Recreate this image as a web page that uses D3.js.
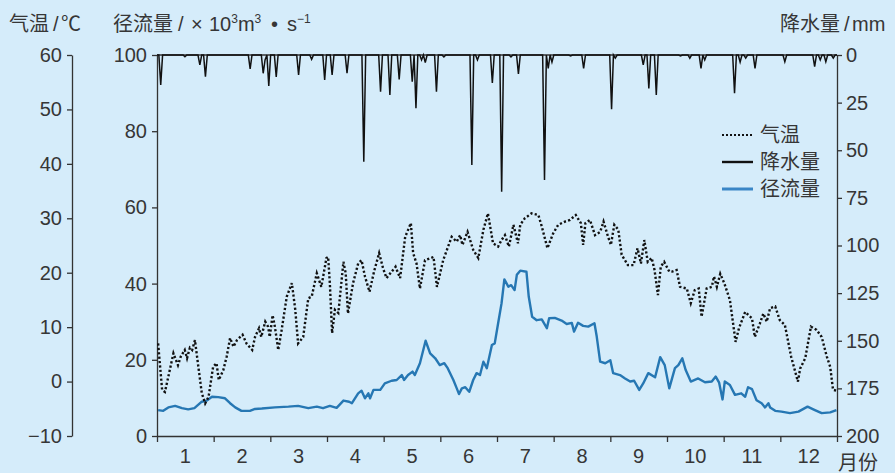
<!DOCTYPE html>
<html>
<head>
<meta charset="utf-8">
<script src="https://cdn.jsdelivr.net/npm/d3@7"></script>
<style>
  body { margin: 0; background: #d5ecfa; }
  svg { display: block; }
  text { font-family: "Liberation Sans", "Noto Sans CJK SC", sans-serif; fill: #363636; }
  .axis path, .axis line { stroke: #333; stroke-width: 1.3; }
  .axis text { font-size: 20px; fill: #363636; }
</style>
</head>
<body>
<div id="chart"></div>
<script>
const months = ['1','2','3','4','5','6','7','8','9','10','11','12'];
const tempTicks = [-10, 0, 10, 20, 30, 40, 50, 60];
const flowTicks = [0, 20, 40, 60, 80, 100];
const rainTicks = [0, 25, 50, 75, 100, 125, 150, 175, 200];

// 气温, x in months from Jan 1
const tempAt = [0.02,0.09,0.14,0.20,0.29,0.37,0.42,0.49,0.53,0.58,0.62,0.67,0.73,0.79,0.85,0.91,0.99,1.05,1.09,1.17,
  1.23,1.29,1.35,1.41,1.51,1.58,1.68,1.73,1.80,1.84,1.91,1.96,1.99,2.04,2.08,2.14,2.20,2.29,2.38,2.44,
  2.49,2.58,2.67,2.73,2.82,2.90,2.99,3.02,3.05,3.09,3.14,3.20,3.29,3.33,3.37,3.46,3.55,3.61,3.67,3.75,
  3.83,3.92,3.99,4.05,4.21,4.29,4.38,4.48,4.52,4.58,4.64,4.73,4.88,4.94,5.05,5.20,5.29,5.35,5.39,5.48,
  5.58,5.67,5.76,5.84,5.93,6.02,6.08,6.14,6.21,6.29,6.37,6.41,6.49,6.61,6.73,6.79,6.89,6.99,7.08,7.20,
  7.29,7.39,7.48,7.52,7.56,7.64,7.73,7.82,7.88,7.96,8.01,8.07,8.14,8.20,8.31,8.41,8.48,8.54,8.60,8.66,
  8.73,8.78,8.84,8.89,8.95,9.04,9.09,9.17,9.23,9.35,9.42,9.49,9.56,9.61,9.70,9.79,9.83,9.88,9.94,10.01,
  10.11,10.21,10.27,10.38,10.50,10.55,10.64,10.70,10.76,10.82,10.91,10.99,11.08,11.19,11.31,11.35,11.44,11.54,11.64,11.73,
  11.82,11.88,11.93,12.0];
const tempVal = [7.0,-1.5,-1.9,0.9,5.2,3.0,4.6,5.8,4.3,6.2,5.8,7.6,2.7,-2.1,-4.0,-2.8,2.7,3.4,0.3,2.1,
  4.6,8.0,6.4,7.6,8.6,7.0,5.8,8.2,9.8,8.2,11.0,10.1,8.2,12.2,10.1,5.8,9.5,15.6,18.1,13.2,
  7.0,8.2,15.3,15.6,19.9,17.4,22.7,22.9,18.1,8.9,13.2,12.6,22.0,19.9,12.5,18.1,21.7,22.3,19.3,16.5,
  20.2,23.6,20.8,19.0,21.1,19.0,26.6,29.1,23.6,21.7,17.1,22.3,22.9,17.4,22.3,26.6,25.7,26.9,25.1,27.5,
  24.2,22.7,27.9,30.9,25.4,24.8,26.0,26.9,24.8,28.8,25.4,28.8,30.0,30.9,30.6,28.5,24.5,27.2,28.8,29.4,
  29.7,30.6,29.1,25.1,29.1,29.7,26.9,27.5,29.4,26.6,25.1,28.8,27.9,23.3,21.4,21.4,24.5,21.7,26.0,22.0,
  22.7,20.5,15.9,21.1,22.0,20.2,20.2,20.5,17.4,17.1,14.4,16.8,17.1,11.9,17.1,17.4,19.3,17.4,19.8,18.1,
  15.0,7.3,9.8,12.8,11.6,8.2,10.7,12.5,11.0,13.5,13.8,11.3,10.4,4.6,0.0,2.4,4.3,10.1,9.5,8.2,
  4.6,2.7,-1.5,-1.7];

// 径流量, x in months from Jan 1
const flowAt = [0.02,0.11,0.20,0.32,0.44,0.55,0.66,0.79,0.88,0.97,1.08,1.20,1.29,1.38,1.49,1.64,1.73,1.85,2.08,2.32,
  2.49,2.67,2.82,2.93,3.05,3.17,3.29,3.39,3.44,3.55,3.61,3.67,3.73,3.76,3.82,3.94,4.02,4.14,4.23,4.32,
  4.36,4.43,4.51,4.55,4.64,4.74,4.82,4.91,4.99,5.07,5.13,5.23,5.29,5.33,5.38,5.44,5.51,5.58,5.64,5.70,
  5.76,5.82,5.91,5.96,6.02,6.08,6.13,6.20,6.25,6.31,6.35,6.41,6.52,6.56,6.62,6.70,6.79,6.88,6.92,7.02,
  7.14,7.23,7.32,7.36,7.43,7.52,7.61,7.72,7.76,7.82,7.91,8.00,8.05,8.17,8.26,8.35,8.42,8.51,8.58,8.67,
  8.79,8.88,8.96,9.04,9.14,9.20,9.27,9.33,9.42,9.55,9.67,9.79,9.86,9.92,9.98,10.02,10.11,10.20,10.31,10.38,
  10.43,10.50,10.58,10.67,10.73,10.79,10.82,10.91,11.02,11.17,11.32,11.48,11.61,11.73,11.88,11.99];
const flowVal = [6.8,6.6,7.5,7.9,7.3,7.0,7.3,9.0,9.3,10.3,10.2,9.9,8.6,7.5,6.6,6.6,7.1,7.2,7.5,7.7,
  7.9,7.3,7.7,7.3,7.9,7.4,9.3,9.0,8.6,11.2,11.9,9.9,11.2,9.9,12.1,12.1,13.8,14.5,14.7,16.0,
  14.7,16.0,16.9,16.0,19.1,25.0,21.7,20.4,18.6,19.1,17.8,14.7,12.5,11.0,12.5,12.8,11.6,14.7,16.5,16.0,
  19.5,17.8,23.9,24.3,29.6,34.8,41.1,39.2,39.6,38.3,42.3,43.4,43.1,36.6,31.3,30.4,30.6,28.3,30.9,31.0,
  30.3,29.4,29.7,27.4,29.7,28.9,28.7,29.6,26.1,19.5,19.1,19.9,16.5,16.0,15.1,14.3,14.5,12.1,13.8,16.5,
  15.4,20.7,18.6,12.5,17.8,18.6,20.4,17.3,14.3,15.1,14.1,14.3,15.6,14.0,9.6,14.3,13.4,10.8,11.2,10.3,
  12.8,12.3,9.4,8.6,7.5,8.6,7.5,6.6,6.4,6.0,6.4,7.7,6.8,6.0,6.2,6.8];

// 降水量, rain days (day of year) and amounts
const rainDay = [2,15,23,26,50,57,58,60,64,76,83,90,94,102,111,120,125,130,137,139,
  142,144,150,154,169,172,180,185,190,194,208,210,212,222,229,244,246,261,264,268,
  281,286,292,294,310,313,316,321,337,353,356,359,363];
const rainMm = [15.7,0.9,5.2,11.4,7.3,9.6,2.6,16.3,11.5,10.5,2.3,13.1,10.5,9.6,56,19.3,21,12.8,14,28,
  2.6,4,19.3,1,57.7,2.6,14.7,71.8,1,10,65.6,7,3.7,0.5,7,28.5,1.6,5.2,17.5,21,
  0.5,1.7,7,2.6,20.1,3.7,1.6,7,3.5,6.1,2.6,3.5,1.6];

const width = 895, height = 473;
const plotLeft = 157, plotRight = 837, plotTop = 55, plotBottom = 436;

const svg = d3.select('#chart')
              .append('svg')
              .attr('width', width)
              .attr('height', height);

svg.append('rect').attr('width', width).attr('height', height).attr('fill', '#d5ecfa');

const x = d3.scaleLinear().domain([0, 12]).range([plotLeft, plotRight]);
const yT = d3.scaleLinear().domain([-10, 60]).range([plotBottom, plotTop]);
const yQ = d3.scaleLinear().domain([0, 100]).range([plotBottom, plotTop]);
const yP = d3.scaleLinear().domain([0, 200]).range([plotTop, plotBottom]);

// axes
svg.append('g').attr('class', 'axis')
   .attr('transform', 'translate(72,0)')
   .call(d3.axisLeft(yT).tickValues(tempTicks).tickSize(5).tickSizeOuter(0).tickPadding(5));

svg.append('g').attr('class', 'axis')
   .attr('transform', 'translate(' + plotLeft + ',0)')
   .call(d3.axisLeft(yQ).tickValues(flowTicks).tickSize(5).tickSizeOuter(0).tickPadding(5));

svg.append('g').attr('class', 'axis')
   .attr('transform', 'translate(' + plotRight + ',0)')
   .call(d3.axisRight(yP).tickValues(rainTicks).tickSize(5).tickSizeOuter(0).tickPadding(4));

svg.append('g').attr('class', 'axis')
   .attr('transform', 'translate(0,' + plotBottom + ')')
   .call(d3.axisBottom(x).tickValues(d3.range(13)).tickFormat('').tickSize(6).tickSizeOuter(0));

svg.append('line').attr('x1', plotLeft).attr('x2', plotRight).attr('y1', plotTop).attr('y2', plotTop)
   .style('stroke', '#333').style('stroke-width', 1.3);

svg.selectAll('.month')
   .data(months)
   .enter()
   .append('text')
   .attr('x', (d, i) => x(i + 0.5))
   .attr('y', 463)
   .style('text-anchor', 'middle')
   .style('font-size', '20px')
   .text(d => d);

svg.append('text').attr('x', 838).attr('y', 470).style('font-size', '20px').text('月份');

// axis titles
const tt = svg.append('text').attr('y', 31).style('font-size', '20px');
tt.append('tspan').attr('x', 9).text('气温');
tt.append('tspan').attr('x', 53).text('/');
tt.append('tspan').attr('x', 61).text('℃');

const qt = svg.append('text').attr('y', 31).style('font-size', '20px');
qt.append('tspan').attr('x', 113).text('径流量');
qt.append('tspan').attr('x', 178).text('/');
qt.append('tspan').attr('x', 191).text('×');
qt.append('tspan').attr('x', 209).text('10');
qt.append('tspan').attr('dy', -8).style('font-size', '12px').text('3');
qt.append('tspan').attr('dy', 8).text('m');
qt.append('tspan').attr('dy', -8).style('font-size', '12px').text('3');
qt.append('tspan').attr('dy', 8).attr('x', 271).text('•');
qt.append('tspan').attr('x', 287).text('s');
qt.append('tspan').attr('dy', -8).style('font-size', '12px').text('−1');

const pt = svg.append('text').attr('y', 31).style('font-size', '20px');
pt.append('tspan').attr('x', 780).text('降水量');
pt.append('tspan').attr('x', 844).text('/');
pt.append('tspan').attr('x', 852).text('mm');

// series
const rainByDay = new Map(rainDay.map((d, i) => [d, rainMm[i]]));
const rainSeries = d3.range(366).map(d => ({ m: d / 365 * 12, v: rainByDay.get(d) || 0 }));

svg.append('path')
   .datum(rainSeries)
   .attr('fill', 'none')
   .attr('stroke', '#111')
   .attr('stroke-width', 1.5)
   .attr('d', d3.line().x(d => x(d.m)).y(d => yP(d.v)));

svg.append('path')
   .datum(flowAt.map((m, i) => [m, flowVal[i]]))
   .attr('fill', 'none')
   .attr('stroke', '#2677b3')
   .attr('stroke-width', 2.4)
   .attr('stroke-linejoin', 'round')
   .attr('d', d3.line().x(d => x(d[0])).y(d => yQ(d[1])));

svg.append('path')
   .datum(tempAt.map((m, i) => [m, tempVal[i]]))
   .attr('fill', 'none')
   .attr('stroke', '#111')
   .attr('stroke-width', 2.4)
   .attr('stroke-dasharray', '2.2 2.2')
   .attr('d', d3.line().x(d => x(d[0])).y(d => yT(d[1])));

// legend
const legend = [
  { name: '气温', color: '#111', dash: '2 2', w: 2.2 },
  { name: '降水量', color: '#111', dash: null, w: 2.4 },
  { name: '径流量', color: '#3a86c6', dash: null, w: 3 }
];
const lg = svg.selectAll('.lg').data(legend).enter().append('g')
   .attr('transform', (d, i) => 'translate(722,' + (135 + i * 27) + ')');
lg.append('line').attr('x1', 0).attr('x2', 31).attr('y1', 0).attr('y2', 0)
  .attr('stroke', d => d.color).attr('stroke-width', d => d.w)
  .attr('stroke-dasharray', d => d.dash);
lg.append('text').attr('x', 38).attr('y', 7).style('font-size', '20px').text(d => d.name);
</script>
</body>
</html>
